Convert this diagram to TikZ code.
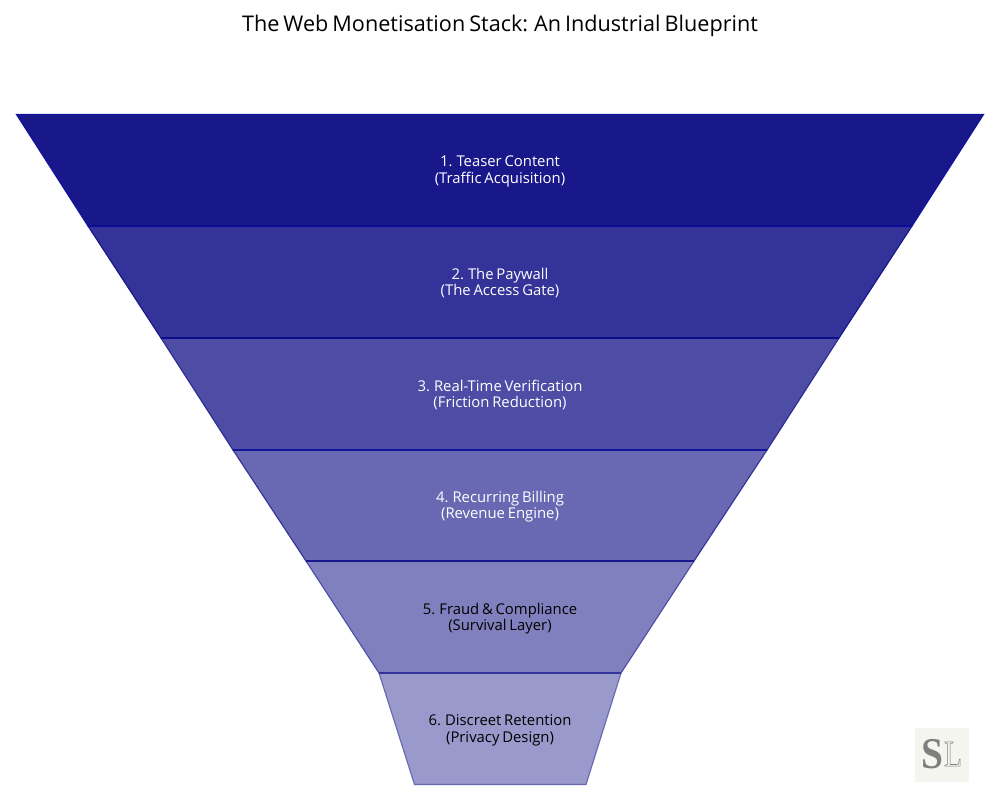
\documentclass[tikz,border=0pt]{standalone}
\usepackage{xcolor}
\usepackage{fontspec}
\setmainfont[WordSpace=0.72]{Open Sans}
\newfontfamily\logofont{Liberation Serif}
\definecolor{stackone}{HTML}{18188A}
\definecolor{stacktwo}{HTML}{333399}
\definecolor{stackthree}{HTML}{4D4DA6}
\definecolor{stackfour}{HTML}{6868B3}
\definecolor{stackfive}{HTML}{8080BF}
\definecolor{stacksix}{HTML}{9999CC}
\definecolor{logopaper}{HTML}{F5F5F0}
\definecolor{logoink}{HTML}{7F7F7F}

\begin{document}
\begin{tikzpicture}[x=0.02cm, y=-0.02cm,
  layer/.style={draw=#1, line width=0.65pt, line join=miter},
  divider/.style={draw=#1, line width=0.85pt},
  lighttext/.style={text=white, font=\fontsize{8.45pt}{9.45pt}\selectfont, align=center},
  darktext/.style={text=black, font=\fontsize{8.45pt}{9.45pt}\selectfont, align=center}]
\useasboundingbox (0,0) rectangle (1000,800);
\node[font=\fontsize{12.3pt}{13pt}\selectfont] (title) at (500,26) {The Web Monetisation Stack: An Industrial Blueprint};

\draw[layer=stackone!80!blue, fill=stackone] (16.5,114.5) -- (983.5,114.5) -- (912,226) -- (88,226) -- cycle;
\draw[layer=stackone, fill=stacktwo] (88,226) -- (912,226) -- (839,338) -- (161,338) -- cycle;
\draw[layer=stacktwo!75!stackone, fill=stackthree] (161,338) -- (839,338) -- (767,450) -- (233,450) -- cycle;
\draw[layer=stacktwo, fill=stackfour] (233,450) -- (767,450) -- (694,561) -- (306,561) -- cycle;
\draw[layer=stackthree, fill=stackfive] (306,561) -- (694,561) -- (621,673) -- (379,673) -- cycle;
\draw[layer=stackfour, fill=stacksix] (379,673) -- (621,673) -- (586,784.5) -- (414.5,784.5) -- cycle;

\draw[divider=stackone!60!blue!80!black] (88,226) -- (912,226);
\draw[divider=stackone!70!blue!80!black] (161,338) -- (839,338);
\draw[divider=stackone!85!blue] (233,450) -- (767,450);
\draw[divider=stackone] (306,561) -- (694,561);
\draw[divider=stacktwo] (379,673) -- (621,673);

\node[lighttext] (teaser) at (500,171.5) {1. Teaser Content\\(Traffic Acquisition)};
\node[lighttext] (paywall) at (500,283) {2. The Paywall\\(The Access Gate)};
\node[lighttext] (verify) at (500,395) {3. Real-Time Verification\\(Friction Reduction)};
\node[lighttext] (billing) at (500,506.5) {4. Recurring Billing\\(Revenue Engine)};
\node[darktext] (fraud) at (500,618.5) {5. Fraud \& Compliance\\(Survival Layer)};
\node[darktext] (retention) at (500,730.5) {6. Discreet Retention\\(Privacy Design)};

\fill[logopaper] (915,728) rectangle (969,782);
\node[text=logoink, font=\logofont\bfseries\fontsize{25pt}{25pt}\selectfont, xscale=0.9] (logos) at (932,754) {S};
\node[text=logoink, font=\logofont\fontsize{21pt}{21pt}\selectfont, xscale=0.8] (logol) at (953,754) {\special{pdf:code 1 Tr 0.35 w}L\special{pdf:code 0 Tr}};
\end{tikzpicture}
\end{document}
